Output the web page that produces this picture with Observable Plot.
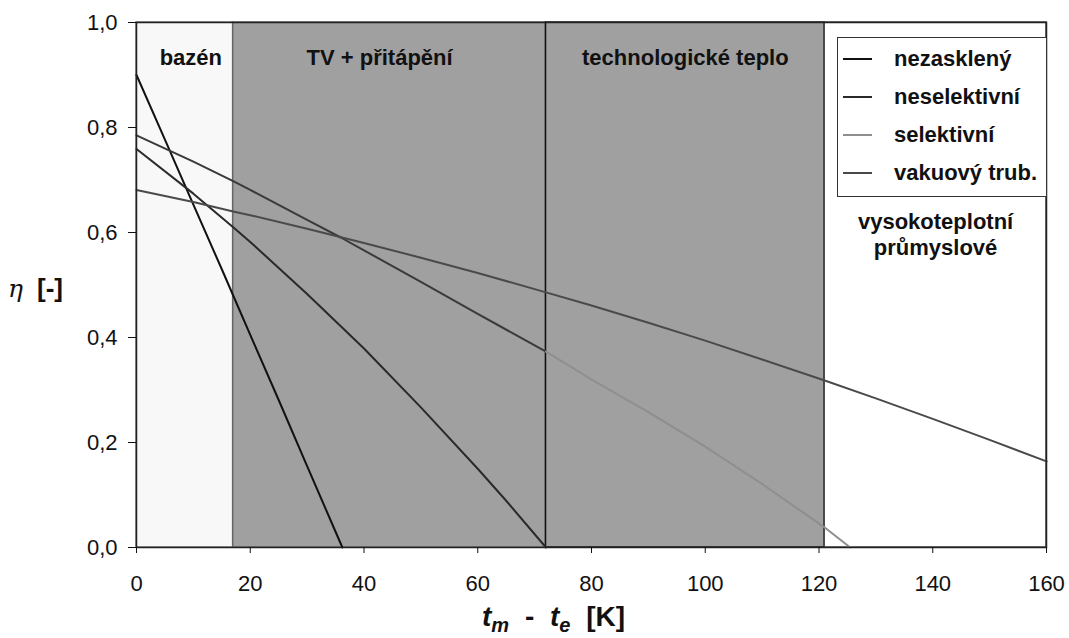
<!DOCTYPE html>
<html>
<head>
<meta charset="utf-8">
<script src="https://cdn.jsdelivr.net/npm/d3@7"></script>
<script src="https://cdn.jsdelivr.net/npm/@observablehq/plot@0.6"></script>
<style>
  body { margin: 0; background: #fff; }
  #wrap { position: relative; width: 1069px; height: 638px; font-family: "Liberation Sans", Arial, sans-serif; }
  #legend { position: absolute; left: 837px; top: 37px; width: 210px; height: 160px; box-sizing: border-box;
            border: 1.5px solid #333; background: #fff; padding-top: 2px; }
  .row { display: flex; align-items: center; height: 38px; font-weight: bold; font-size: 22px; color: #111; white-space: nowrap; }
  .sw { width: 29px; height: 0; border-top: 2px solid; margin-left: 5px; margin-right: 22px; }
  #ylab { position: absolute; left: 8px; top: 273px; font-size: 26px; font-weight: bold; color: #111; white-space: nowrap; }
  #ylab .eta { font-family: "DejaVu Serif", serif; font-style: italic; font-weight: normal; font-size: 25px; margin-right: 14px; }
  #xlab { position: absolute; left: 482px; top: 601px; font-size: 28px; font-weight: bold; color: #111; white-space: nowrap; word-spacing: 8px; }
  #xlab i { font-style: italic; }
  #xlab sub { font-size: 20px; vertical-align: -6px; font-style: italic; }
</style>
</head>
<body>
<div id="wrap"></div>
<script>
// ---- data ----
const xTicks = [0, 20, 40, 60, 80, 100, 120, 140, 160];
const yTicks = [0, 0.2, 0.4, 0.6, 0.8, 1.0];

const zoneNames = ["bazén", "TV + přitápění", "technologické teplo", "vysokoteplotní\nprůmyslové"];
const zoneStart = [0, 17, 72, 121];
const zoneEnd = [17, 72, 121, 160];

const seriesNames = ["nezasklený", "neselektivní", "selektivní", "vakuový trub."];

const nezX = [0, 5, 10, 15, 17, 20, 25, 30, 35, 36.2];
const nezY = [0.900, 0.777, 0.653, 0.530, 0.480, 0.405, 0.281, 0.155, 0.030, 0];

const neselX = [0, 10, 17, 20, 30, 40, 50, 60, 65, 72];
const neselY = [0.759, 0.674, 0.610, 0.582, 0.483, 0.379, 0.267, 0.150, 0.089, 0];

const selX = [0, 10, 17, 20, 30, 36, 40, 50, 60, 72, 80, 90, 100, 110, 121, 125.5];
const selY = [0.785, 0.735, 0.698, 0.681, 0.624, 0.590, 0.566, 0.506, 0.445, 0.373, 0.320, 0.258, 0.192, 0.121, 0.038, 0];

const vakX = [0, 10, 17, 20, 30, 40, 50, 60, 72, 80, 90, 100, 110, 121, 130, 140, 150, 160];
const vakY = [0.681, 0.658, 0.640, 0.633, 0.607, 0.580, 0.552, 0.523, 0.486, 0.461, 0.428, 0.394, 0.358, 0.318, 0.284, 0.245, 0.205, 0.164];

// ---- build ----
const pts = (xs, ys) => xs.map((x, i) => ({x, y: ys[i]}));
const zones = zoneNames.map((name, i) => ({name, x1: zoneStart[i], x2: zoneEnd[i], i}));
const zoneFill = ["#f8f8f8", "#a0a0a0", "#a0a0a0", "#ffffff"];
const zoneStroke = ["#777", "#666", "#111", "#444"];
const labelDx = [6, -10, 0, 0];
const labelDy = [34, 34, 34, 211];

const colors = ["#111111", "#2a2a2a", "#8e8e8e", "#4a4a4a"];
const selDark = "#3a3a3a";

const sel = pts(selX, selY);
const fmt = d => d.toFixed(1).replace(".", ",");

const chart = Plot.plot({
  width: 1069,
  height: 638,
  marginLeft: 136,
  marginRight: 23,
  marginTop: 22,
  marginBottom: 91,
  style: {fontFamily: '"Liberation Sans", Arial, sans-serif', fontSize: "22px", color: "#111", background: "#fff"},
  x: {domain: [0, 160]},
  y: {domain: [0, 1]},
  marks: [
    ...zones.map(z => Plot.rect([z], {x1: "x1", x2: "x2", y1: 0, y2: 1, fill: zoneFill[z.i], stroke: zoneStroke[z.i], strokeWidth: 1.5})),
    Plot.line(pts(nezX, nezY), {x: "x", y: "y", stroke: colors[0], strokeWidth: 2}),
    Plot.line(pts(neselX, neselY), {x: "x", y: "y", stroke: colors[1], strokeWidth: 2}),
    Plot.line(sel.filter(d => d.x <= 72), {x: "x", y: "y", stroke: selDark, strokeWidth: 2}),
    Plot.line(sel.filter(d => d.x >= 72), {x: "x", y: "y", stroke: colors[2], strokeWidth: 2}),
    Plot.line(pts(vakX, vakY), {x: "x", y: "y", stroke: colors[3], strokeWidth: 2}),
    ...zones.map(z => Plot.text([z], {
      x: d => (d.x1 + d.x2) / 2, frameAnchor: "top", dx: labelDx[z.i], dy: labelDy[z.i],
      text: "name", fontWeight: "bold", fontSize: 22, fill: "#111", lineAnchor: "middle", lineHeight: 1.2
    })),
    Plot.frame({stroke: "#222", strokeWidth: 1.5}),
    Plot.axisX({ticks: xTicks, tickSize: 6, tickPadding: 22, label: null, fontSize: 22}),
    Plot.axisY({ticks: yTicks, tickSize: 8, tickPadding: 11, tickFormat: fmt, label: null, fontSize: 22})
  ]
});

const wrap = document.getElementById("wrap");
wrap.appendChild(chart);

const legend = document.createElement("div");
legend.id = "legend";
seriesNames.forEach((name, i) => {
  const row = document.createElement("div");
  row.className = "row";
  const sw = document.createElement("span");
  sw.className = "sw";
  sw.style.borderTopColor = colors[i];
  const t = document.createElement("span");
  t.textContent = name;
  row.appendChild(sw);
  row.appendChild(t);
  legend.appendChild(row);
});
wrap.appendChild(legend);

const ylab = document.createElement("div");
ylab.id = "ylab";
ylab.innerHTML = '<span class="eta">η</span>[-]';
wrap.appendChild(ylab);

const xlab = document.createElement("div");
xlab.id = "xlab";
xlab.innerHTML = '<i>t</i><sub>m</sub> - <i>t</i><sub>e</sub> [K]';
wrap.appendChild(xlab);
</script>
</body>
</html>
